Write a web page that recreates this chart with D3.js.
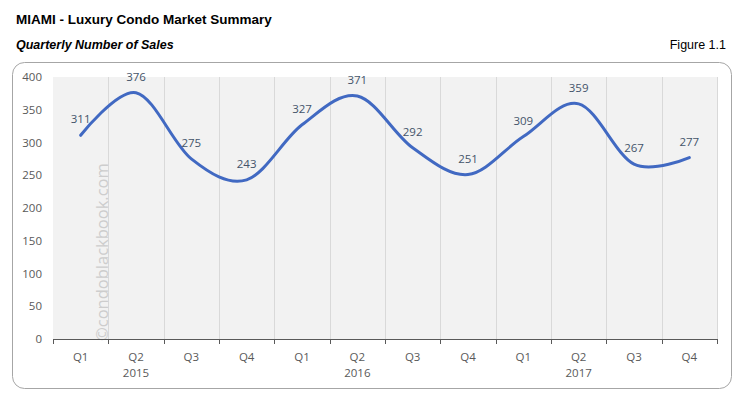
<!DOCTYPE html>
<html>
<head>
<meta charset="utf-8">
<title>MIAMI - Luxury Condo Market Summary</title>
<script src="https://d3js.org/d3.v7.min.js"></script>
<style>
  body { margin: 0; background: #fff; }
  .title { font-family: Arial, "Liberation Sans", sans-serif; font-weight: bold; font-size: 13.5px; fill: #000; }
  .subtitle { font-family: Arial, "Liberation Sans", sans-serif; font-weight: bold; font-style: italic; font-size: 12.5px; fill: #000; }
  .fig { font-family: Arial, "Liberation Sans", sans-serif; font-size: 12.5px; fill: #000; }
  .axis text { font-family: "Open Sans", "Noto Sans", sans-serif; font-size: 11.5px; fill: #595959; }
  .lbl { font-family: "Open Sans", "Noto Sans", sans-serif; font-size: 11.5px; fill: #44546a; }
</style>
</head>
<body>
<svg width="741" height="397"></svg>
<script>
// chart data
var quarters = ["Q1","Q2","Q3","Q4","Q1","Q2","Q3","Q4","Q1","Q2","Q3","Q4"];
var years = ["2015","2016","2017"];
var sales = [311, 376, 275, 243, 327, 371, 292, 251, 309, 359, 267, 277];
var yTicks = [0, 50, 100, 150, 200, 250, 300, 350, 400];

var svg = d3.select("svg");

svg.append("text").attr("class","title").attr("x",16).attr("y",24).text("MIAMI - Luxury Condo Market Summary");
svg.append("text").attr("class","subtitle").attr("x",16).attr("y",49).text("Quarterly Number of Sales");
svg.append("text").attr("class","fig").attr("x",726).attr("y",49).attr("text-anchor","end").text("Figure 1.1");

// rounded frame
svg.append("rect").attr("x",12.5).attr("y",62.5).attr("width",719).attr("height",326)
  .attr("rx",12).attr("fill","#fff").attr("stroke","#a6a6a6").attr("stroke-width",1);

var plotL = 53, plotR = 717, plotT = 77, plotB = 339;

var idx = d3.range(sales.length);
var x = d3.scaleBand().domain(idx).range([plotL, plotR]);
var y = d3.scaleLinear().domain([0, 400]).range([plotB, plotT]);

function edge(d){ return d < sales.length ? x(d) : plotR; }

// plot background
svg.append("rect").attr("x",plotL).attr("y",plotT).attr("width",plotR-plotL).attr("height",plotB-plotT).attr("fill","#f2f2f2");

// vertical gridlines at category boundaries
svg.append("g").selectAll("line").data(idx.slice(1).concat([sales.length]))
  .enter().append("line")
  .attr("x1", function(d){ return Math.round(edge(d)) + 0.5; })
  .attr("x2", function(d){ return Math.round(edge(d)) + 0.5; })
  .attr("y1", plotT).attr("y2", plotB)
  .attr("stroke","#d9d9d9").attr("stroke-width",1);

// watermark
svg.append("text").attr("transform","translate(108,341) rotate(-90)")
  .attr("font-family","'Open Sans', 'Noto Sans', sans-serif").attr("font-size",16.5)
  .attr("fill","#cdcdcd").text("©condoblackbook.com");

// y axis labels
var yAxis = svg.append("g").attr("class","axis");
yAxis.selectAll("text").data(yTicks).enter().append("text")
  .attr("x",42).attr("y",function(d){ return y(d); }).attr("dy","0.35em")
  .attr("text-anchor","end").text(function(d){ return d; });

// x axis line and ticks
var xAxis = svg.append("g").attr("class","axis");
xAxis.append("line").attr("x1",plotL).attr("x2",plotR).attr("y1",plotB+0.5).attr("y2",plotB+0.5)
  .attr("stroke","#595959").attr("stroke-width",1);
xAxis.selectAll("line.tk").data(idx.concat([sales.length])).enter().append("line").attr("class","tk")
  .attr("x1",function(d){ return Math.round(edge(d)) + 0.5; })
  .attr("x2",function(d){ return Math.round(edge(d)) + 0.5; })
  .attr("y1",plotB).attr("y2",plotB+5).attr("stroke","#595959");
xAxis.selectAll("text.q").data(quarters).enter().append("text").attr("class","q")
  .attr("x",function(d,i){ return x(i) + x.bandwidth()/2; }).attr("y",361)
  .attr("text-anchor","middle").text(function(d){ return d; });
xAxis.selectAll("text.yr").data(years).enter().append("text").attr("class","yr")
  .attr("x",function(d,i){ return x(i*4+1) + x.bandwidth()/2; }).attr("y",377)
  .attr("text-anchor","middle").text(function(d){ return d; });

// smoothed line
var line = d3.line()
  .x(function(d,i){ return x(i) + x.bandwidth()/2; })
  .y(function(d){ return y(d); })
  .curve(d3.curveCardinal.tension(0));

svg.append("path").datum(sales).attr("d", line)
  .attr("fill","none").attr("stroke","#4169c2").attr("stroke-width",3).attr("stroke-linecap","round");

// data labels
svg.append("g").selectAll("text").data(sales).enter().append("text").attr("class","lbl")
  .attr("x",function(d,i){ return x(i) + x.bandwidth()/2; })
  .attr("y",function(d){ return y(d) - 12; })
  .attr("text-anchor","middle").text(function(d){ return d; });
</script>
</body>
</html>
